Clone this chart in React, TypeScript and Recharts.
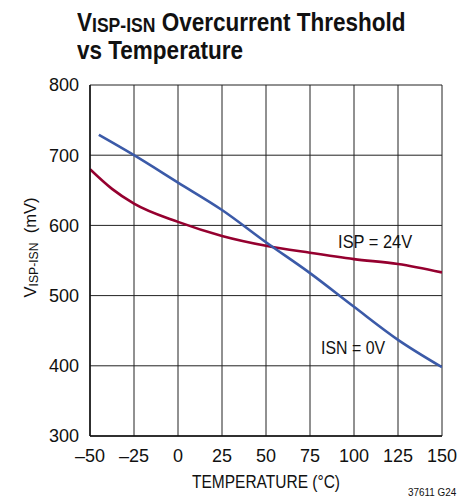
import React from 'react';
import { LineChart, Line, XAxis, YAxis, CartesianGrid, ReferenceDot } from 'recharts';

const xTicks = [-50, -25, 0, 25, 50, 75, 100, 125, 150];
const yTicks = [300, 400, 500, 600, 700, 800];

const isnTemps = [-45, -25, 0, 25, 50, 75, 100, 125, 150];
const isnValues = [729, 700, 661, 622, 576, 532, 484, 437, 398];

const ispTemps = [-50, -37.5, -25, 0, 25, 50, 75, 100, 125, 150];
const ispValues = [680, 652, 631, 605, 585, 571, 561, 552, 545, 533];

const isnData = isnTemps.map((t, i) => ({ t, v: isnValues[i] }));
const ispData = ispTemps.map((t, i) => ({ t, v: ispValues[i] }));

const FONT = '"Liberation Sans", Arial, sans-serif';
const BLUE = '#3b5aa8';
const RED = '#95002f';

const fmt = (v: number) => (v < 0 ? '\u2013' + Math.abs(v) : String(v));

const YLabel = (props: any) => {
  const vb = props.viewBox || {};
  const cx = 30;
  const cy = vb.y + vb.height / 2 - 13;
  return (
    <text
      transform={`translate(${cx},${cy}) rotate(-90)`}
      textAnchor="middle"
      dominantBaseline="central"
      fontFamily={FONT}
      fontSize={17}
      fill="#111"
      textLength={100}
      lengthAdjust="spacingAndGlyphs"
    >
      <tspan>V</tspan>
      <tspan fontSize={12.5} dy={4}>ISP-ISN</tspan>
      <tspan dy={-4}>{'\u00a0\u00a0(mV)'}</tspan>
    </text>
  );
};

const XLabel = (props: any) => {
  const vb = props.viewBox || {};
  return (
    <text
      x={vb.x + vb.width / 2}
      y={vb.y + 46}
      textAnchor="middle"
      dominantBaseline="central"
      fontFamily={FONT}
      fontSize={18}
      fill="#111"
      textLength={148}
      lengthAdjust="spacingAndGlyphs"
    >
      TEMPERATURE (°C)
    </text>
  );
};

const NoteLabel = (len: number, text: string) => (props: any) => {
  const vb = props.viewBox || {};
  const cx = vb.x + (vb.width || 0) / 2;
  const cy = vb.y + (vb.height || 0) / 2;
  return (
    <text
      x={cx}
      y={cy}
      textAnchor="middle"
      dominantBaseline="central"
      fontFamily={FONT}
      fontSize={18}
      fill="#111"
      textLength={len}
      lengthAdjust="spacingAndGlyphs"
    >
      {text}
    </text>
  );
};

const titleLine: React.CSSProperties = {
  position: 'absolute',
  left: 77,
  fontFamily: FONT,
  fontWeight: 'bold',
  fontSize: 25,
  lineHeight: '22px',
  height: 22,
  color: '#111',
  whiteSpace: 'nowrap',
  transform: 'scaleX(0.9)',
  transformOrigin: 'left top',
};

export default function App() {
  return (
    <div style={{ position: 'absolute', left: 0, top: 0, width: 471, height: 501, background: '#fff' }}>
      <div style={{ ...titleLine, top: 10.8 }}>
        V
        <span
          style={{
            display: 'inline-block',
            fontSize: 19.5,
            lineHeight: '14px',
            height: 14,
            position: 'relative',
            top: 1.5,
          }}
        >
          ISP-ISN
        </span>{' '}
        Overcurrent Threshold
      </div>
      <div style={{ ...titleLine, top: 38.8 }}>vs Temperature</div>
      <LineChart
        width={471}
        height={501}
        data={ispData}
        margin={{ top: 85, right: 29, bottom: 35, left: 40 }}
        style={{ position: 'absolute', left: 0, top: 0 }}
      >
        <CartesianGrid stroke="#222" strokeWidth={1} />
        <XAxis
          type="number"
          dataKey="t"
          domain={[-50, 150]}
          ticks={xTicks}
          tickFormatter={fmt}
          axisLine={{ stroke: '#111', strokeWidth: 1.5 }}
          tickLine={false}
          tickSize={6}
          tickMargin={7}
          height={30}
          tick={{ fontFamily: FONT, fontSize: 18, fill: '#111' }}
          interval={0}
          allowDataOverflow
          label={<XLabel />}
        />
        <YAxis
          type="number"
          domain={[300, 800]}
          ticks={yTicks}
          width={50}
          axisLine={{ stroke: '#111', strokeWidth: 1.5 }}
          tickLine={false}
          tickSize={6}
          tickMargin={5}
          tick={{ fontFamily: FONT, fontSize: 18, fill: '#111' }}
          interval={0}
          label={<YLabel />}
        />
        <Line
          data={ispData}
          dataKey="v"
          type="monotone"
          stroke={RED}
          strokeWidth={2.6}
          dot={false}
          isAnimationActive={false}
        />
        <Line
          data={isnData}
          dataKey="v"
          type="monotone"
          stroke={BLUE}
          strokeWidth={2.6}
          dot={false}
          isAnimationActive={false}
        />
        <ReferenceDot
          x={112}
          y={577}
          r={0}
          fill="none"
          stroke="none"
          label={NoteLabel(74, 'ISP = 24V')}
        />
        <ReferenceDot
          x={99.5}
          y={425}
          r={0}
          fill="none"
          stroke="none"
          label={NoteLabel(64, 'ISN = 0V')}
        />
      </LineChart>
      <div
        style={{
          position: 'absolute',
          left: 408,
          top: 486,
          fontFamily: FONT,
          fontSize: 11,
          color: '#111',
          whiteSpace: 'nowrap',
          transform: 'scaleX(0.9)',
          transformOrigin: 'left top',
        }}
      >
        37611 G24
      </div>
    </div>
  );
}
